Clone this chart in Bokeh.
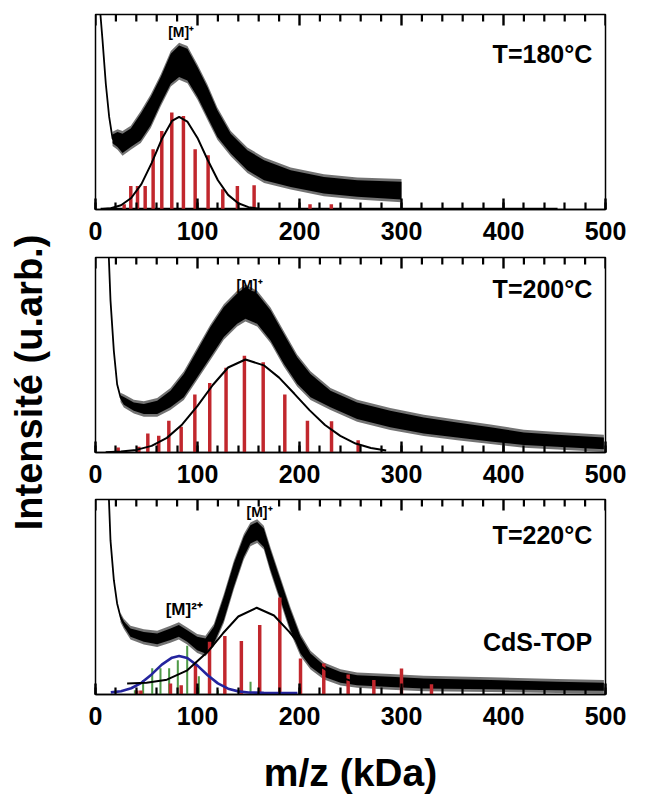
import math
from bokeh.plotting import figure
from bokeh.layouts import row, column
from bokeh.models import Range1d, SingleIntervalTicker
from bokeh.core.properties import value
from bokeh.embed import file_html
from bokeh.resources import INLINE

FONT = "Liberation Sans"
RED = "#c1272d"
GREEN = "#4f9a48"
BLUE = "#24249e"

# ---------------- axis ticks (kDa) ----------------
major_ticks = [0, 100, 200, 300, 400, 500]
minor_ticks = [20, 40, 60, 80, 120, 140, 160, 180, 220, 240, 260, 280, 320, 340, 360, 380,
               420, 440, 460, 480]

# ---------------- Panel 1 : T=180°C ----------------
p1_tail_x = [4.6, 6.9, 10.1, 13.4, 16.7, 19]
p1_tail_y = [101.5, 86.7, 64.5, 47.5, 36.5, 35]
p1_band_x = [16.7, 21.6, 26.5, 34.6, 44.4, 54.2, 64, 73.8, 82, 90.1,
             100, 109.7, 119.5, 132.6, 148.9, 165.3, 191.4, 224, 256.7, 300]
p1_band_lo = [34, 32, 29, 32, 35.5, 43.2, 54.3, 64.5, 67.9, 66.2,
              57.7, 47.4, 37.2, 28.7, 20.1, 15, 11.6, 8.2, 6.5, 5.1]
p1_band_hi = [38.5, 39.8, 38.9, 41.5, 49.1, 57.7, 67.9, 79.9, 84.1, 82.4,
              73, 62.8, 50.9, 38.9, 30.4, 25.3, 20.1, 16.7, 15, 14.2]
p1_fit_x = [7, 15, 25, 35, 45, 55, 65, 75, 82, 90, 100, 110, 120, 130, 140, 150, 160]
p1_fit_y = [0.23, 0.68, 2.2, 5.9, 13.0, 23.8, 36.1, 45.4, 47.5, 45.1, 36.7, 25.4, 15.0,
            7.5, 3.2, 1.2, 0.37]
p1_bar_x = [28.1, 34.6, 41.2, 48.7, 56.5, 65, 74.8, 86.2, 97.7, 110.4, 124.8, 139.1,
            155.5, 210.3, 231.2]
p1_bar_h = [2.7, 12.1, 12.1, 12.1, 30.9, 40.3, 49.7, 48, 30.9, 27.8, 10.4, 12.1, 12.5,
            2.7, 2.7]
p1_base_x = [5, 453]
p1_base_y = [0.4, 0.4]

# ---------------- Panel 2 : T=200°C ----------------
p2_tail_x = [13, 14.7, 18, 21.2, 24.5, 27.8, 30]
p2_tail_y = [101, 78, 52, 35, 28.3, 26.5, 25]
p2_band_x = [24.5, 27.8, 37.6, 47.4, 60.5, 73.5, 86.6, 99.7, 112.7,
             125.8, 138.9, 147, 158.5, 171.6, 184.6, 197.7, 210.8, 230.4, 256.5, 289,
             321.9, 354.6, 387.3, 420, 452.6, 498.4]
p2_band_lo = [27.3, 24.5, 21.4, 19.7, 19.7, 23.2, 28.3, 38.6, 48.9,
              59.2, 66, 68.6, 66, 57.5, 45.5, 35.2, 28.3, 23.2, 17.2, 12.9, 9.8, 7.7,
              5.7, 3.9, 2.9, 1.7]
p2_band_hi = [29.3, 28.5, 25.7, 24.9, 26.6, 31.7, 40.3, 52.3, 64.3,
              74.6, 81.5, 84.9, 81.5, 72.9, 60.9, 48.9, 40.3, 31.7, 25.7, 21.4, 18,
              15.4, 12.9, 10.3, 9.1, 7.7]
p2_fit_x = [10, 25, 40, 55, 70, 85, 100, 115, 130, 147, 165, 180, 195, 210, 225, 240,
            255, 270, 285]
p2_fit_y = [0.14, 0.46, 1.33, 3.4, 7.5, 14.4, 23.9, 34.6, 43.6, 47.7, 44.7, 38.4, 30.1,
            21.6, 14.1, 8.5, 4.6, 2.3, 1.06]
p2_bar_x = [22.2, 42.5, 51.3, 62, 71.9, 84, 97.4, 112, 128, 146, 164.4, 185.6, 207.8,
            231.4, 257.5]
p2_bar_h = [2.6, 2.9, 9.8, 8.6, 16.3, 13.2, 29.7, 35.7, 43.4, 49.6, 46.3, 29.7, 16.3,
            16, 6.3]

# ---------------- Panel 3 : T=220°C (CdS-TOP) ----------------
p3_tail_x = [13.1, 14.7, 18, 21.2, 24.5, 27.8, 30]
p3_tail_y = [101, 79, 58.6, 46.7, 39.8, 36.4, 34]
p3_band_x = [24.5, 27.8, 34.3, 47.4, 60.5, 73.5, 81.7, 89.9, 99.7,
             107.8, 116, 125.8, 135.6, 145.4, 151.9, 158.5, 165, 171.6, 181.4, 191.2,
             201, 210.8, 223.9, 240.2, 256.5, 289.2, 321.9, 387.3, 452.6, 498.4]
p3_band_lo = [38.5, 35, 29.6, 27, 25.8, 27.9, 29.6, 27, 22.7, 21,
              26.2, 38.1, 55.2, 70.6, 77.4, 79.1, 75.7, 63.8, 48.4, 33, 21, 14.2, 9.1,
              6, 4.8, 3.9, 3.1, 2.7, 2.2, 1.9]
p3_band_hi = [40.5, 37.5, 33.8, 32.1, 31.3, 33.8, 35.6, 33, 29.6,
              28.7, 34.7, 50.1, 67.2, 80.9, 86.8, 88.5, 85.1, 74, 58.6, 43.2, 29.6, 21,
              15, 11.6, 9.9, 9.1, 8.2, 7.4, 6.5, 6]
p3_fit_x = [31, 50, 70, 90, 110, 125, 140, 158, 175, 190, 205, 220, 235, 250, 265]
p3_fit_y = [5.6, 6.0, 7.6, 12.4, 21.9, 31.4, 40.0, 44.5, 40.5, 32.1, 22.5, 14.7, 9.7,
            7.1, 6.0]
p3_blue_x = [15, 25, 35, 45, 55, 65, 75, 82, 90, 100, 110, 120, 130, 140, 150, 165, 198]
p3_blue_y = [1.07, 1.7, 3.2, 6.0, 10.3, 15.3, 18.9, 19.8, 18.7, 14.8, 9.9, 5.7, 3.0,
             1.6, 1.04, 0.85, 0.8]
p3_red_x = [40.5, 44.5, 73.5, 84, 98, 111.8, 126.8, 143, 161, 180.7, 201, 223.8, 247.7,
            272.9, 300, 329.4]
p3_red_h = [2, 2, 5.6, 4.8, 15.9, 27, 30, 27.4, 35.6, 49.7, 18.5, 15.9, 10.3, 7.4,
            13.3, 5.3]
p3_green_x = [38.6, 46.7, 55.6, 63.7, 72.2, 80.7, 89.9, 101.3, 120, 143, 152]
p3_green_h = [2.2, 7.5, 13.5, 13.5, 13.5, 17.6, 25, 9.3, 2.2, 3.5, 6.5]

# ---------------- texts ----------------
temp_labels = ["T=180°C", "T=200°C", "T=220°C"]
sample_label = "CdS-TOP"
ion_single = "[M]\u207a"
ion_double = "[M]\u00b2\u207a"
x_title = "m/z (kDa)"
y_title = "Intensité (u.arb.)"

Y_TOP = 100
FUZZ = 1.4   # half-width (data units) of the noisy fringe of the spectra
MAJ_PX, MIN_PX = 11, 7


def make_panel(top, bottom):
    p = figure(frame_width=510, frame_height=195, x_range=Range1d(0, 500),
               y_range=Range1d(0, Y_TOP), output_backend="svg", toolbar_location=None,
               y_axis_location=None, min_border_left=27, min_border_right=40,
               min_border_top=top, min_border_bottom=bottom)
    p.grid.visible = False
    p.outline_line_color = "black"
    p.outline_line_width = 1.5
    ax = p.xaxis[0]
    ax.ticker = SingleIntervalTicker(interval=100, num_minor_ticks=5)
    ax.axis_line_width = 1.5
    ax.major_tick_in = MAJ_PX
    ax.major_tick_out = 0
    ax.minor_tick_in = MIN_PX
    ax.minor_tick_out = 0
    ax.major_tick_line_width = 2.4
    ax.minor_tick_line_width = 2.2
    ax.major_tick_line_color = "black"
    ax.minor_tick_line_color = "black"
    ax.major_label_text_font = FONT
    ax.major_label_text_font_style = "bold"
    ax.major_label_text_font_size = "25px"
    ax.major_label_text_color = "black"
    ax.major_label_standoff = 12
    # inward ticks along the top edge of the frame
    maj_len = Y_TOP * MAJ_PX / 195
    min_len = Y_TOP * MIN_PX / 195
    p.segment(x0=major_ticks, x1=major_ticks, y0=[Y_TOP] * len(major_ticks),
              y1=[Y_TOP - maj_len] * len(major_ticks), line_color="black", line_width=2.4)
    p.segment(x0=minor_ticks, x1=minor_ticks, y0=[Y_TOP] * len(minor_ticks),
              y1=[Y_TOP - min_len] * len(minor_ticks), line_color="black", line_width=2.2)
    return p, ax


def style_text(**kw):
    d = dict(text_font=value(FONT), text_font_style="bold", text_color="black")
    d.update(kw)
    return d


def draw_spectrum(p, tx, ty, bx, lo, hi):
    p.line(x=tx, y=ty, line_color="black", line_width=1.8)
    p.varea(x=bx, y1=[v - FUZZ for v in lo], y2=[v + FUZZ for v in hi],
            fill_color="black", fill_alpha=0.55)
    p.varea(x=bx, y1=lo, y2=hi, fill_color="black")


# Panel 1
p1, ax1 = make_panel(14, 42)
draw_spectrum(p1, p1_tail_x, p1_tail_y, p1_band_x, p1_band_lo, p1_band_hi)
p1.line(x=p1_base_x, y=p1_base_y, line_color="black", line_width=2)
p1.vbar(x=p1_bar_x, top=p1_bar_h, bottom=0, width=3.4, fill_color=RED, line_color=None)
p1.line(x=p1_fit_x, y=p1_fit_y, line_color="black", line_width=2)
p1.text(x=[487], y=[80], text=[temp_labels[0]],
        **style_text(text_font_size="25px", text_align="right", text_baseline="middle"))
p1.text(x=[84], y=[91], text=[ion_single],
        **style_text(text_font_size="14px", text_align="center", text_baseline="middle"))

# Panel 2
p2, ax2 = make_panel(6, 42)
draw_spectrum(p2, p2_tail_x, p2_tail_y, p2_band_x, p2_band_lo, p2_band_hi)
p2.vbar(x=p2_bar_x, top=p2_bar_h, bottom=0, width=3.4, fill_color=RED, line_color=None)
p2.line(x=p2_fit_x, y=p2_fit_y, line_color="black", line_width=2)
p2.text(x=[487], y=[84], text=[temp_labels[1]],
        **style_text(text_font_size="25px", text_align="right", text_baseline="middle"))
p2.text(x=[151], y=[86], text=[ion_single],
        **style_text(text_font_size="14px", text_align="center", text_baseline="middle"))

# Panel 3
p3, ax3 = make_panel(5, 0)
draw_spectrum(p3, p3_tail_x, p3_tail_y, p3_band_x, p3_band_lo, p3_band_hi)
p3.vbar(x=p3_green_x, top=p3_green_h, bottom=0, width=2, fill_color=GREEN, line_color=None)
p3.vbar(x=p3_red_x, top=p3_red_h, bottom=0, width=3.4, fill_color=RED, line_color=None)
p3.line(x=p3_blue_x, y=p3_blue_y, line_color=BLUE, line_width=2.6)
p3.line(x=p3_fit_x, y=p3_fit_y, line_color="black", line_width=2)
p3.text(x=[487], y=[81.7], text=[temp_labels[2]],
        **style_text(text_font_size="25px", text_align="right", text_baseline="middle"))
p3.text(x=[487], y=[27], text=[sample_label],
        **style_text(text_font_size="25px", text_align="right", text_baseline="middle"))
p3.text(x=[160.8], y=[93.5], text=[ion_single],
        **style_text(text_font_size="14px", text_align="center", text_baseline="middle"))
p3.text(x=[87], y=[43.7], text=[ion_double],
        **style_text(text_font_size="17px", text_align="center", text_baseline="middle"))
ax3.axis_label = x_title
ax3.axis_label_text_font = FONT
ax3.axis_label_text_font_style = "bold"
ax3.axis_label_text_font_size = "39px"
ax3.axis_label_text_color = "black"
ax3.axis_label_standoff = 23

# Y title column
lab = figure(width=68, height=790, x_range=Range1d(0, 1), y_range=Range1d(0, 1),
             output_backend="svg", toolbar_location=None, x_axis_location=None,
             y_axis_location=None, min_border=0, min_border_left=0, min_border_right=0,
             min_border_top=0, min_border_bottom=0)
lab.outline_line_color = None
lab.grid.visible = False
lab.text(x=[0.426], y=[0.5165], text=[y_title], angle=math.pi / 2,
         **style_text(text_font_size="38px", text_align="center", text_baseline="middle"))

layout = row(lab, column(p1, p2, p3))
open("out.html", "w").write(file_html(layout, INLINE))
